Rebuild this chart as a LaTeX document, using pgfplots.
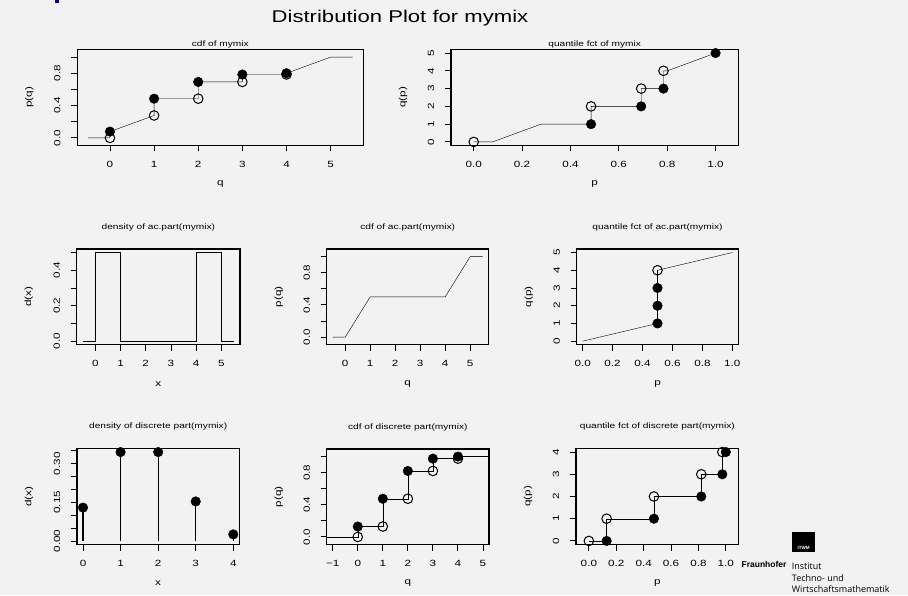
\documentclass[border=0pt]{standalone}
\usepackage{pgfplots}
\pgfplotsset{compat=1.18}
\usepackage{fontspec}
\setmainfont{Liberation Sans}[FakeStretch=1.3]
\newfontfamily\plainsans{Liberation Sans}
\newfontfamily\logofont{Open Sans}
\definecolor{bg}{RGB}{242,242,242}
\pgfplotsset{
  rpanel/.style={
    scale only axis, anchor=south west, clip=false,
    cycle list={{black, mark=none, line width=1.1pt}},
    tick align=outside, xtick pos=bottom, ytick pos=left,
    major tick length=6pt,
    tick style={black, line width=0.9pt},
    axis line style={black, line width=1.2pt},
    tick label style={font=\fontsize{9}{10}\selectfont},
    label style={font=\fontsize{9}{10}\selectfont},
    title style={font=\fontsize{7.8}{9}\selectfont, at={(axis description cs:0.5,1)}, anchor=center, yshift=16pt},
    xticklabel style={anchor=center, yshift=-13pt},
    yticklabel style={rotate=90, anchor=center, yshift=14pt},
    xlabel style={at={(axis description cs:0.5,0)}, anchor=center, yshift=-39pt},
    ylabel style={at={(axis description cs:0,0.5)}, anchor=center, yshift=48pt},
  },
  op/.style={black, only marks, mark=o, mark size=4.8pt, mark options={line width=1pt, fill=none}},
  fp/.style={black, only marks, mark=*, mark size=4.8pt, mark options={fill=black}},
  toprow/.style={title style={yshift=-17pt}},
  cdfy/.style={ymin=-0.094, ymax=1.094, ytick={0,0.2,0.4,0.6,0.8,1}, yticklabels={0.0,{},0.4,{},0.8,{}}},
  px/.style={xtick={0,0.2,0.4,0.6,0.8,1}, xticklabels={0.0,0.2,0.4,0.6,0.8,1.0}},
}
\begin{document}
\begin{tikzpicture}[x=1pt,y=1pt]
\fill[bg] (0,0) rectangle (908,595);
\useasboundingbox (0,0) rectangle (908,595);
\fill[blue!70!black] (55,592) rectangle (59,595);
\node[font=\fontsize{17}{20}\selectfont, anchor=base] at (400,572.3) {Distribution Plot for mymix};

% 1 cdf of mymix
\begin{axis}[rpanel, toprow, at={(77.3pt,449.5pt)}, width=286pt, height=96pt,
  xmin=-0.74, xmax=5.74, cdfy,
  xtick={0,1,2,3,4,5}, xticklabels={0,1,2,3,4,5},
  title={cdf of mymix}, xlabel={q}, ylabel={p(q)}]
\addplot coordinates {(-0.5,0)(0,0)(0,0.0778)(1,0.2778)(1,0.4851)(2,0.4851)(2,0.6925)(3,0.6925)(3,0.7846)(4,0.7846)(4,0.8)(5,1)(5.5,1)};
\addplot[op] coordinates {(0,0)(1,0.2778)(2,0.4851)(3,0.6925)(4,0.7846)};
\addplot[fp] coordinates {(0,0.0778)(1,0.4851)(2,0.6925)(3,0.7846)(4,0.8)};
\end{axis}

% 2 quantile fct of mymix
\begin{axis}[rpanel, toprow, at={(451pt,449.5pt)}, width=287.3pt, height=96pt,
  xmin=-0.094, xmax=1.094, ymin=-0.2, ymax=5.2, px,
  ytick={0,1,2,3,4,5}, yticklabels={0,1,2,3,4,5},
  title={quantile fct of mymix}, xlabel={p}, ylabel={q(p)}]
\addplot coordinates {(0,0)(0.0778,0)(0.2778,1)(0.4851,1)(0.4851,2)(0.6925,2)(0.6925,3)(0.7846,3)(0.7846,4)(0.8,4)(1,5)};
\addplot[op] coordinates {(0,0)(0.4851,2)(0.6925,3)(0.7846,4)};
\addplot[fp] coordinates {(0.4851,1)(0.6925,2)(0.7846,3)(1,5)};
\end{axis}

% 3 density of ac.part
\begin{axis}[rpanel, at={(76.7pt,250.3pt)}, width=163.3pt, height=95.7pt,
  xmin=-0.74, xmax=5.74, ymin=-0.02, ymax=0.52,
  xtick={0,1,2,3,4,5}, xticklabels={0,1,2,3,4,5},
  ytick={0,0.1,0.2,0.3,0.4,0.5}, yticklabels={0.0,{},0.2,{},0.4,{}},
  title={density of ac.part(mymix)}, xlabel={x}, ylabel={d(x)}]
\addplot coordinates {(-0.5,0)(0,0)(0,0.5)(1,0.5)(1,0)(4,0)(4,0.5)(5,0.5)(5,0)(5.5,0)};
\end{axis}

% 4 cdf of ac.part
\begin{axis}[rpanel, at={(326.7pt,250.3pt)}, width=162pt, height=95.7pt,
  xmin=-0.74, xmax=5.74, cdfy,
  xtick={0,1,2,3,4,5}, xticklabels={0,1,2,3,4,5},
  title={cdf of ac.part(mymix)}, xlabel={q}, ylabel={p(q)}]
\addplot coordinates {(-0.5,0)(0,0)(1,0.5)(4,0.5)(5,1)(5.5,1)};
\end{axis}

% 5 quantile fct of ac.part
\begin{axis}[rpanel, at={(576.7pt,250.3pt)}, width=161.6pt, height=95.7pt,
  xmin=-0.04, xmax=1.04, ymin=-0.2, ymax=5.2, px,
  ytick={0,1,2,3,4,5}, yticklabels={0,1,2,3,4,5},
  title={quantile fct of ac.part(mymix)}, xlabel={p}, ylabel={q(p)}]
\addplot coordinates {(0,0)(0.5,1)(0.5,4)(1,5)};
\addplot[black, line width=1.8pt] coordinates {(0.5,1)(0.5,4)};
\addplot[op] coordinates {(0.5,4)};
\addplot[fp] coordinates {(0.5,1)(0.5,2)(0.5,3)};
\end{axis}

% 6 density of discrete part
\begin{axis}[rpanel, at={(77pt,50.5pt)}, width=162.3pt, height=96pt,
  xmin=-0.16, xmax=4.16, ymin=-0.0138, ymax=0.3594,
  xtick={0,1,2,3,4}, xticklabels={0,1,2,3,4},
  ytick={0,0.05,0.1,0.15,0.2,0.25,0.3,0.35}, yticklabels={0.00,{},{},0.15,{},{},0.30,{}},
  title={density of discrete part(mymix)}, xlabel={x}, ylabel={d(x)}]
\addplot[black, line width=1.1pt, ycomb] coordinates {(0,0.1296)(1,0.3456)(2,0.3456)(3,0.1536)(4,0.0256)};
\addplot[fp] coordinates {(0,0.1296)(1,0.3456)(2,0.3456)(3,0.1536)(4,0.0256)};
\end{axis}

% 7 cdf of discrete part
\begin{axis}[rpanel, at={(326.7pt,50.5pt)}, width=162.3pt, height=95.5pt,
  xmin=-1.24, xmax=5.24, cdfy,
  xtick={-1,0,1,2,3,4,5}, xticklabels={−1,0,1,2,3,4,5},
  title={cdf of discrete part(mymix)}, xlabel={q}, ylabel={p(q)}]
\addplot coordinates {(-1.24,0)(0,0)(0,0.1296)(1,0.1296)(1,0.4752)(2,0.4752)(2,0.8208)(3,0.8208)(3,0.9744)(4,0.9744)(4,1)(5.24,1)};
\addplot[op] coordinates {(0,0)(1,0.1296)(2,0.4752)(3,0.8208)(4,0.9744)};
\addplot[fp] coordinates {(0,0.1296)(1,0.4752)(2,0.8208)(3,0.9744)(4,1)};
\end{axis}

% 8 quantile fct of discrete part
\begin{axis}[rpanel, at={(576pt,50.5pt)}, width=162.7pt, height=96pt,
  xmin=-0.094, xmax=1.094, ymin=-0.16, ymax=4.16, px,
  ytick={0,1,2,3,4}, yticklabels={0,1,2,3,4},
  title={quantile fct of discrete part(mymix)}, xlabel={p}, ylabel={q(p)}]
\addplot coordinates {(0,0)(0.1296,0)(0.1296,1)(0.4752,1)(0.4752,2)(0.8208,2)(0.8208,3)(0.9744,3)(0.9744,4)(1,4)};
\addplot[op] coordinates {(0,0)(0.1296,1)(0.4752,2)(0.8208,3)(0.9744,4)};
\addplot[fp] coordinates {(0.1296,0)(0.4752,1)(0.8208,2)(0.9744,3)(1,4)};
\end{axis}

% logo
\fill[black] (792,43.3) rectangle (815,63);
\node[text=white, font=\plainsans\bfseries\fontsize{4.5}{5}\selectfont, anchor=base] at (803.5,45.5) {ITWM};
\node[font=\plainsans\bfseries\fontsize{8.5}{9}\selectfont, anchor=base east] at (790,28) {Fraunhofer};
\node[font=\logofont\fontsize{9}{10}\selectfont, anchor=base west, inner sep=0pt] at (791.7,26) {Institut};
\node[font=\logofont\fontsize{9}{10}\selectfont, anchor=base west, inner sep=0pt] at (791.7,14) {Techno- und};
\node[font=\logofont\fontsize{9}{10}\selectfont, anchor=base west, inner sep=0pt] at (791.7,3) {Wirtschaftsmathematik};
\end{tikzpicture}
\end{document}
